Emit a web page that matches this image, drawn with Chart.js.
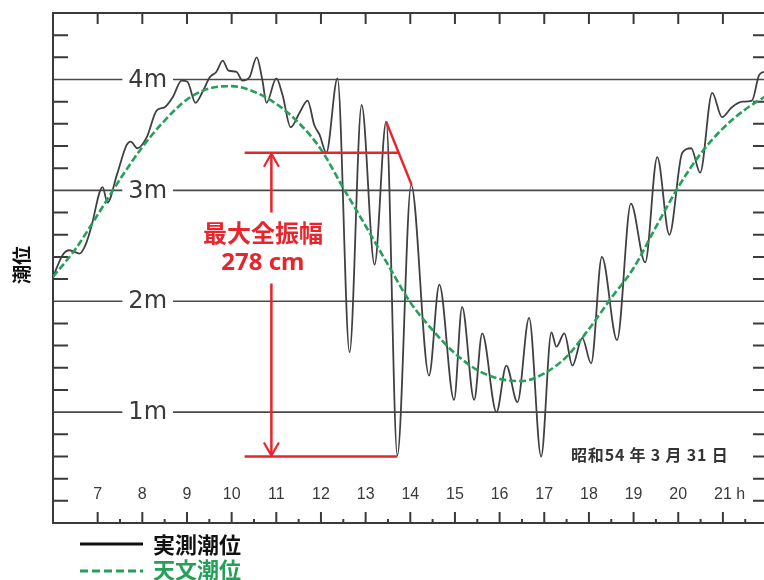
<!DOCTYPE html>
<html><head><meta charset="utf-8">
<script src="https://cdn.jsdelivr.net/npm/chart.js@4.4.0/dist/chart.umd.min.js"></script>
<style>html,body{margin:0;padding:0;background:#fff;}#wrap{position:relative;width:764px;height:580px;}</style>
</head><body><div id="wrap"><canvas id="c"></canvas></div>
<script>
// ---- axis ticks & labels ----
const hourTicks = [7,8,9,10,11,12,13,14,15,16,17,18,19,20,21];
const hourLabels = ['7','8','9','10','11','12','13','14','15','16','17','18','19','20','21 h'];
const halfHourTicks = [7.5,8.5,9.5,10.5,11.5,12.5,13.5,14.5,15.5,16.5,17.5,18.5,19.5,20.5,21.5];
const meterTicks = [1,2,3,4];
const meterLabels = ['1m','2m','3m','4m'];
const meterMinorTicks = [0.2,0.4,0.6,0.8,1.2,1.4,1.6,1.8,2.2,2.4,2.6,2.8,3.2,3.4,3.6,3.8,4.2,4.4];

// ---- observed tide (実測潮位) ----
const obsHours = [6.00,6.22,6.37,6.60,6.73,6.87,7.04,7.11,7.22,7.43,7.65,7.74,7.89,8.10,8.32,8.50,8.68,8.88,9.01,9.19,9.35,9.51,9.66,9.80,9.93,10.11,10.24,10.40,10.56,10.69,10.78,11.00,11.14,11.32,11.52,11.70,11.85,11.97,12.12,12.37,12.64,12.91,13.20,13.46,13.71,14.02,14.42,14.65,14.98,15.16,15.43,15.61,15.93,16.15,16.40,16.66,16.93,17.16,17.27,17.45,17.63,17.85,18.05,18.29,18.63,18.94,19.26,19.53,19.80,20.09,20.29,20.49,20.76,20.98,21.20,21.43,21.65,21.81,21.92];
const obsLevels = [2.22,2.42,2.46,2.43,2.51,2.69,2.98,3.03,2.89,3.14,3.41,3.44,3.38,3.48,3.72,3.75,3.84,3.99,3.98,3.79,3.89,4.02,4.07,4.17,4.08,4.07,3.99,4.02,4.20,3.99,3.79,4.01,3.86,3.57,3.70,3.81,3.59,3.50,3.34,4.01,1.54,3.77,2.33,3.62,0.61,3.05,1.33,2.15,1.11,1.95,1.11,1.71,1.00,1.42,1.09,1.85,0.60,1.72,1.59,1.71,1.42,1.67,1.44,2.40,1.65,2.88,2.35,3.30,2.60,3.34,3.38,3.16,3.88,3.66,3.75,3.80,3.81,4.04,4.07];

// ---- astronomical tide (天文潮位) ----
const astroHours = [6.0,6.5,7.0,7.5,8.0,8.5,9.0,9.5,10.0,10.5,11.0,11.5,12.0,12.5,13.0,13.5,14.0,14.5,15.0,15.5,16.0,16.5,17.0,17.5,18.0,18.5,19.0,19.5,20.0,20.5,21.0,21.5,22.0];
const astroLevels = [2.22,2.47,2.78,3.10,3.39,3.63,3.82,3.92,3.94,3.89,3.78,3.61,3.37,3.02,2.68,2.33,1.99,1.74,1.53,1.38,1.30,1.28,1.35,1.50,1.75,2.03,2.30,2.67,3.03,3.33,3.56,3.73,3.86];

// ---- max full amplitude annotation ----
const ampTitle = '最大全振幅';
const ampValueLabel = '278 cm';
const ampTopLevel = 3.34;
const ampBottomLevel = 0.60;
const ampStartHour = 10.29;
const ampBottomEndHour = 13.71;
const ampArrowHour = 10.89;
const ampSlantHours = [13.46, 14.03];
const ampSlantLevels = [3.62, 3.05];
const dateLabel = '昭和54 年 3 月 31 日';
const yTitle = '潮位';
const legendLabels = ['実測潮位','天文潮位'];

const RED = '#e8242c', GREEN = '#24a058', INK = '#3a3a3a';

const framePlugin = {
  id: 'frame',
  beforeDatasetsDraw(chart) {
    const {ctx, chartArea: a, scales: {x, y}} = chart;
    ctx.save();
    ctx.lineCap = 'butt';
    // gridlines with label gaps
    ctx.font = '24px "DejaVu Sans"';
    ctx.textBaseline = 'middle';
    ctx.textAlign = 'center';
    const labelX = x.getPixelForValue(8.12);
    meterTicks.forEach((v, i) => {
      const py = y.getPixelForValue(v);
      const w = ctx.measureText(meterLabels[i]).width;
      ctx.strokeStyle = '#4a4a4a'; ctx.lineWidth = 1.6;
      ctx.beginPath();
      ctx.moveTo(a.left, py); ctx.lineTo(labelX - w/2 - 6, py);
      ctx.moveTo(labelX + w/2 + 6, py); ctx.lineTo(a.right, py);
      ctx.stroke();
      ctx.fillStyle = INK;
      ctx.fillText(meterLabels[i], labelX, py + 1);
    });
    // frame
    ctx.strokeStyle = INK; ctx.lineWidth = 2;
    ctx.beginPath();
    ctx.moveTo(a.right, a.top); ctx.lineTo(a.left, a.top); ctx.lineTo(a.left, a.bottom); ctx.lineTo(a.right, a.bottom);
    ctx.stroke();
    // side ticks
    ctx.beginPath();
    meterMinorTicks.forEach(v => {
      const py = y.getPixelForValue(v);
      ctx.moveTo(a.left, py); ctx.lineTo(a.left + 15, py);
      ctx.moveTo(a.right, py); ctx.lineTo(a.right - 11, py);
    });
    hourTicks.forEach(v => {
      const px = x.getPixelForValue(v);
      ctx.moveTo(px, a.top); ctx.lineTo(px, a.top + 11);
      ctx.moveTo(px, a.bottom); ctx.lineTo(px, a.bottom - 11);
    });
    halfHourTicks.forEach(v => {
      const px = x.getPixelForValue(v);
      ctx.moveTo(px, a.bottom); ctx.lineTo(px, a.bottom - 4);
    });
    ctx.stroke();
    // hour labels
    ctx.font = '16px "Liberation Sans"';
    ctx.textAlign = 'left';
    ctx.fillStyle = INK;
    hourTicks.forEach((v, i) => {
      const px = x.getPixelForValue(v);
      const num = hourLabels[i].split(' ')[0];
      const w = ctx.measureText(num).width;
      ctx.fillText(hourLabels[i], px - w/2, a.bottom - 28);
    });
    // date label
    ctx.font = 'bold 16px "Noto Sans CJK JP"';
    ctx.fillStyle = '#333';
    ctx.letterSpacing = '0.8px';
    ctx.fillText(dateLabel, x.getPixelForValue(17.6), y.getPixelForValue(0.61));
    ctx.letterSpacing = '0px';
    // y title
    ctx.save();
    ctx.translate(22, 265);
    ctx.rotate(-Math.PI/2);
    ctx.font = 'bold 19px "Noto Sans CJK JP"';
    ctx.textAlign = 'center';
    ctx.fillStyle = '#111';
    ctx.fillText(yTitle, 0, 0);
    ctx.restore();
    // legend
    ctx.lineWidth = 3;
    ctx.strokeStyle = '#111';
    ctx.beginPath(); ctx.moveTo(80, 544); ctx.lineTo(143, 544); ctx.stroke();
    ctx.strokeStyle = GREEN; ctx.setLineDash([8,4]);
    ctx.beginPath(); ctx.moveTo(80, 571); ctx.lineTo(143, 571); ctx.stroke();
    ctx.setLineDash([]);
    ctx.font = 'bold 22px "Noto Sans CJK JP"';
    ctx.textAlign = 'left';
    ctx.fillStyle = '#111';
    ctx.fillText(legendLabels[0], 153, 545);
    ctx.fillStyle = GREEN;
    ctx.fillText(legendLabels[1], 153, 570);
    ctx.restore();
  }
};

const annotPlugin = {
  id: 'annot',
  afterDatasetsDraw(chart) {
    const {ctx, scales: {x, y}} = chart;
    ctx.save();
    ctx.strokeStyle = RED; ctx.fillStyle = RED; ctx.lineWidth = 2.5;
    const yT = y.getPixelForValue(ampTopLevel), yB = y.getPixelForValue(ampBottomLevel);
    const x0 = x.getPixelForValue(ampStartHour);
    const p1x = x.getPixelForValue(ampSlantHours[0]), p1y = y.getPixelForValue(ampSlantLevels[0]);
    const p2x = x.getPixelForValue(ampSlantHours[1]), p2y = y.getPixelForValue(ampSlantLevels[1]);
    const t = (yT - p1y) / (p2y - p1y);
    const xi = p1x + t * (p2x - p1x);
    ctx.beginPath();
    ctx.moveTo(x0, yT); ctx.lineTo(xi, yT);
    ctx.moveTo(p1x, p1y); ctx.lineTo(p2x, p2y);
    ctx.moveTo(x0, yB); ctx.lineTo(x.getPixelForValue(ampBottomEndHour), yB);
    const xa = x.getPixelForValue(ampArrowHour);
    const txtY1 = y.getPixelForValue(2.62), txtY2 = y.getPixelForValue(2.34);
    ctx.moveTo(xa, yT); ctx.lineTo(xa, txtY1 - 20);
    ctx.moveTo(xa, txtY2 + 20); ctx.lineTo(xa, yB);
    ctx.stroke();
    ctx.lineWidth = 2.2;
    ctx.beginPath();
    ctx.moveTo(xa - 7.5, yT + 14); ctx.lineTo(xa, yT + 1); ctx.lineTo(xa + 7.5, yT + 14);
    ctx.moveTo(xa - 7.5, yB - 14); ctx.lineTo(xa, yB - 1); ctx.lineTo(xa + 7.5, yB - 14);
    ctx.stroke();
    const tx = x.getPixelForValue(10.70);
    ctx.textAlign = 'center'; ctx.textBaseline = 'middle';
    ctx.font = 'bold 24px "Noto Sans CJK JP"';
    ctx.fillText(ampTitle, tx, txtY1);
    ctx.font = 'bold 24px "Noto Sans", "Noto Sans CJK JP"';
    ctx.fillText(ampValueLabel, tx, txtY2);
    ctx.restore();
  }
};

new Chart(document.getElementById('c'), {
  type: 'line',
  data: {
    datasets: [
      { label: legendLabels[1], order: 0,
        data: astroHours.map((h, i) => ({x: h, y: astroLevels[i]})),
        borderColor: GREEN, borderWidth: 2.6, borderDash: [7, 3], pointRadius: 0,
        cubicInterpolationMode: 'monotone', fill: false },
      { label: legendLabels[0], order: 1,
        data: obsHours.map((h, i) => ({x: h, y: obsLevels[i]})),
        borderColor: '#404040', borderWidth: 1.8, pointRadius: 0,
        cubicInterpolationMode: 'monotone', fill: false }
    ]
  },
  options: {
    responsive: true, maintainAspectRatio: false, animation: false,
    layout: { padding: { left: 53, top: 13, right: 0, bottom: 57 } },
    scales: {
      x: { type: 'linear', min: 6, max: 21.92, display: false },
      y: { min: 0, max: 4.6, display: false }
    },
    plugins: { legend: { display: false }, tooltip: { enabled: false } }
  },
  plugins: [framePlugin, annotPlugin]
});
</script></body></html>
